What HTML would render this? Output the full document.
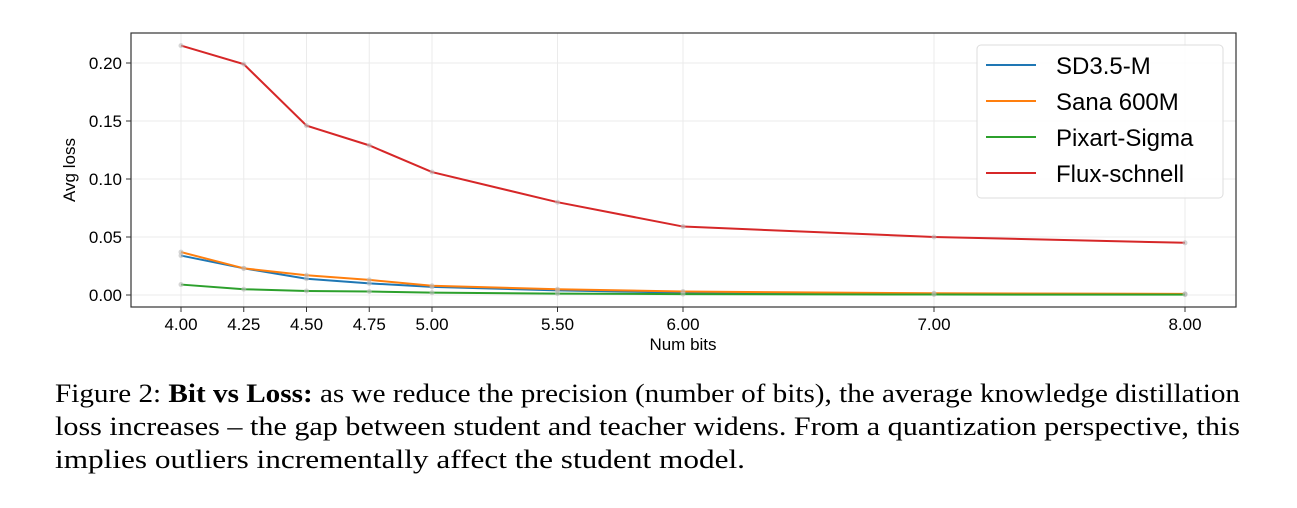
<!DOCTYPE html>
<html><head><meta charset="utf-8"><style>
body{margin:0;background:#fff;width:1297px;height:508px;overflow:hidden}
</style></head><body>
<svg width="1297" height="370" style="position:absolute;left:0;top:0">
<g id="grid"></g>
<rect x="131" y="33" width="1105" height="274" fill="none" stroke="#333" stroke-width="1.2"/>
<g id="axes" font-family="Liberation Sans, DejaVu Sans, sans-serif" font-size="17" fill="#000"></g>
<g id="series"></g>
<text x="75" y="170" transform="rotate(-90 75 170)" text-anchor="middle" font-family="Liberation Sans, DejaVu Sans, sans-serif" font-size="17">Avg loss</text>
<text x="683" y="350" text-anchor="middle" font-family="Liberation Sans, DejaVu Sans, sans-serif" font-size="17">Num bits</text>
<g>
<rect x="977" y="45" width="246" height="153" rx="4" fill="#fff" fill-opacity="0.85" stroke="#ddd"/>
<g id="legend" font-family="Liberation Sans, DejaVu Sans, sans-serif" font-size="24"></g>
</g>
</svg>
<svg width="1297" height="138" style="position:absolute;left:0;top:370px" font-family="Liberation Serif, serif" font-size="26.5">
<text x="55" y="32" textLength="1185" lengthAdjust="spacingAndGlyphs">Figure 2: <tspan font-weight="bold">Bit vs Loss:</tspan> as we reduce the precision (number of bits), the average knowledge distillation</text>
<text x="55" y="65" textLength="1185" lengthAdjust="spacingAndGlyphs">loss increases – the gap between student and teacher widens. From a quantization perspective, this</text>
<text x="55" y="98" textLength="690" lengthAdjust="spacingAndGlyphs">implies outliers incrementally affect the student model.</text>
</svg>
<script>
const bits=[4.00,4.25,4.50,4.75,5.00,5.50,6.00,7.00,8.00];
const xTicks=["4.00","4.25","4.50","4.75","5.00","5.50","6.00","7.00","8.00"];
const yTicks=[0,0.05,0.10,0.15,0.20];
const seriesNames=["SD3.5-M","Sana 600M","Pixart-Sigma","Flux-schnell"];
const sd35=[0.034,0.023,0.014,0.010,0.007,0.004,0.002,0.001,0.0008];
const sana=[0.037,0.023,0.017,0.013,0.008,0.005,0.003,0.0015,0.001];
const pixart=[0.009,0.005,0.0035,0.003,0.002,0.0012,0.0008,0.0004,0.0003];
const flux=[0.215,0.199,0.146,0.129,0.106,0.080,0.059,0.050,0.045];
const colors=["#1f77b4","#ff7f0e","#2ca02c","#d62728"];
const NS="http://www.w3.org/2000/svg";
const xs=v=>181+(v-4)*251;
const ys=v=>295-v*1160;
function mk(t,a,p){const e=document.createElementNS(NS,t);for(const k in a)e.setAttribute(k,a[k]);p.appendChild(e);return e;}
const grid=document.getElementById('grid'),axes=document.getElementById('axes'),ser=document.getElementById('series'),leg=document.getElementById('legend');
bits.forEach((b,i)=>{
 const g=mk('line',{x1:xs(b),x2:xs(b),y1:33,y2:307,stroke:'#ebebeb','stroke-width':1},grid);
 
 
 const tk=mk('line',{x1:xs(b),x2:xs(b),y1:307,y2:312,stroke:'#333'},axes);
 
 
 const t=mk('text',{x:xs(b),y:330,'text-anchor':'middle'},axes);t.textContent=xTicks[i];
 
 
});
yTicks.forEach(v=>{
 const g=mk('line',{x1:131,x2:1236,y1:ys(v),y2:ys(v),stroke:'#ebebeb'},grid);
 
 
 const tk=mk('line',{x1:126,x2:131,y1:ys(v),y2:ys(v),stroke:'#333'},axes);
 
 
 const t=mk('text',{x:122,y:ys(v)+6,'text-anchor':'end'},axes);t.textContent=v.toFixed(2);
 
 
});
[sd35,sana,pixart,flux].forEach((d,si)=>{
 const p=mk('polyline',{points:d.map((v,i)=>xs(bits[i])+','+ys(v)).join(' '),fill:'none',stroke:colors[si],'stroke-width':2},ser);
 
 
 d.forEach((v,i)=>{const c=mk('circle',{cx:xs(bits[i]),cy:ys(v),r:2.5,fill:'#bbb','fill-opacity':0.6},ser);
  
  });
 const y=65+si*36;
 const l=mk('line',{x1:986,x2:1036,y1:y,y2:y,stroke:colors[si],'stroke-width':2},leg);
 
 
 const t=mk('text',{x:1056,y:y+9},leg);t.textContent=seriesNames[si];
 
 
});
</script>
</body></html>
